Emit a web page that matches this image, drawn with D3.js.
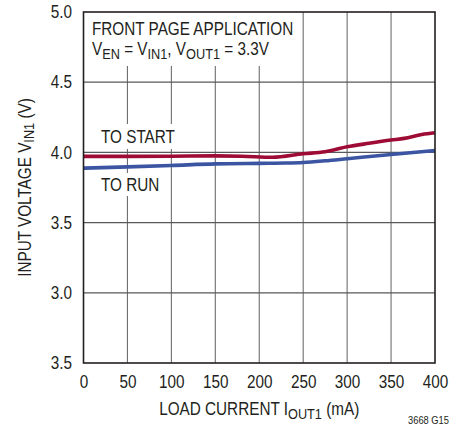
<!DOCTYPE html>
<html><head><meta charset="utf-8">
<script src="https://cdn.jsdelivr.net/npm/d3@7"></script>
<style>
html,body{margin:0;padding:0;background:#fff;}
text{font-family:'Liberation Sans',Arial,Helvetica,sans-serif;fill:#231f20;}
</style></head>
<body>
<script>
// ---- data ----
const xTicks = [0, 50, 100, 150, 200, 250, 300, 350, 400];
const yTicks = [2.5, 3.0, 3.5, 4.0, 4.5, 5.0];
const yTickLabels = ["3.5", "3.0", "3.5", "4.0", "4.5", "5.0"];
const toStartCurrent = [0, 50, 100, 150, 180, 215, 250, 275, 300, 325, 350, 365, 385, 400];
const toStartVoltage = [3.972, 3.972, 3.973, 3.975, 3.973, 3.965, 3.99, 4.005, 4.04, 4.065, 4.088, 4.10, 4.128, 4.14];
const toRunCurrent = [0, 50, 100, 150, 200, 230, 250, 275, 300, 350, 400];
const toRunVoltage = [3.888, 3.897, 3.907, 3.918, 3.922, 3.924, 3.928, 3.94, 3.955, 3.985, 4.013];

const W = 466, H = 429;
const m = {left: 83.5, top: 12, right: 435, bottom: 363};
const SX = 0.85, FS = 18, SUBFS = 15, SUBDY = 3.5;
const svg = d3.select("body").append("svg").attr("width", W).attr("height", H);

const x = d3.scaleLinear().domain([0, 400]).range([m.left, m.right]);
const y = d3.scaleLinear().domain([2.5, 5.0]).range([m.bottom, m.top]);

// grid
const grid = svg.append("g");
grid.selectAll("line.v").data(xTicks.slice(1, -1)).join("line")
  .attr("x1", d => x(d)).attr("x2", d => x(d)).attr("y1", m.top).attr("y2", m.bottom)
  .attr("stroke", "#6d6e71").attr("stroke-width", 1.1);
grid.selectAll("line.h").data(yTicks.slice(1, -1)).join("line")
  .attr("x1", m.left).attr("x2", m.right).attr("y1", d => y(d)).attr("y2", d => y(d))
  .attr("stroke", "#58595b").attr("stroke-width", 1.3);

// white boxes behind annotations
svg.append("rect").attr("x", m.left).attr("y", m.top).attr("width", 216).attr("height", 54).attr("fill", "#fff");
svg.append("rect").attr("x", 96).attr("y", 124).attr("width", 86).attr("height", 25).attr("fill", "#fff");
svg.append("rect").attr("x", 96).attr("y", 173).attr("width", 70).attr("height", 23).attr("fill", "#fff");

// lines
const line = d3.line().x(d => x(d[0])).y(d => y(d[1])).curve(d3.curveMonotoneX);
svg.append("path").datum(toRunCurrent.map((c, i) => [c, toRunVoltage[i]]))
  .attr("d", line).attr("fill", "none").attr("stroke", "#3b55a3").attr("stroke-width", 3.6);
svg.append("path").datum(toStartCurrent.map((c, i) => [c, toStartVoltage[i]]))
  .attr("d", line).attr("fill", "none").attr("stroke", "#9e0b35").attr("stroke-width", 3.6);

// frame
svg.append("rect").attr("x", m.left).attr("y", m.top).attr("width", m.right - m.left).attr("height", m.bottom - m.top)
  .attr("fill", "none").attr("stroke", "#231f20").attr("stroke-width", 1.6);

// axes
const yAxis = d3.axisLeft(y).tickValues(yTicks).tickSize(0).tickPadding(11.5 / SX)
  .tickFormat((d, i) => yTickLabels[i]);
const gy = svg.append("g").attr("transform", `translate(${m.left},0)`).call(yAxis);
gy.select(".domain").remove();
gy.selectAll("text").style("font-size", FS + "px").attr("fill", "#231f20")
  .attr("font-family", null).attr("transform", `scale(${SX},1)`);

const xAxis = d3.axisBottom(x).tickValues(xTicks).tickSize(0).tickPadding(12).tickFormat(d3.format("d"));
const gx = svg.append("g").attr("transform", `translate(0,${m.bottom})`).call(xAxis);
gx.select(".domain").remove();
gx.selectAll("text").style("font-size", FS + "px").attr("fill", "#231f20")
  .attr("font-family", null).attr("transform", `scale(${SX},1)`);
gx.selectAll(".tick text").attr("transform", null);
gx.selectAll(".tick").each(function() {
  d3.select(this).select("text").attr("transform", `scale(${SX},1)`);
});

// text helper with condensed scaling and subscripts
function label(px, py, parts, opts = {}) {
  const g = svg.append("g").attr("transform",
    `translate(${px},${py})` + (opts.rotate ? ` rotate(${opts.rotate})` : "") + ` scale(${opts.sx || SX},1)`);
  const t = g.append("text").attr("text-anchor", opts.anchor || "start").style("font-size", (opts.size || FS) + "px");
  let down = false;
  parts.forEach(p => {
    const isSub = Array.isArray(p);
    const txt = isSub ? p[0] : p;
    const ts = t.append("tspan").text(txt);
    if (isSub) { ts.style("font-size", SUBFS + "px"); if (!down) { ts.attr("dy", SUBDY); down = true; } }
    else if (down) { ts.attr("dy", -SUBDY); down = false; }
  });
  return t;
}

label(92, 34.5, ["FRONT PAGE APPLICATION"]);
label(92, 55, ["V", ["EN"], " = V", ["IN1"], ", V", ["OUT1"], " = 3.3V"]);
label(101, 143, ["TO START"]);
label(101, 191, ["TO RUN"]);

label((m.left + m.right) / 2, 415, ["LOAD CURRENT I", ["OUT1"], " (mA)"], {anchor: "middle"});
label(30.5, (m.top + m.bottom) / 2, ["INPUT VOLTAGE V", ["IN1"], " (V)"], {anchor: "middle", rotate: -90});

label(449, 424, ["3668 G15"], {anchor: "end", size: 11});
</script>
</body></html>
